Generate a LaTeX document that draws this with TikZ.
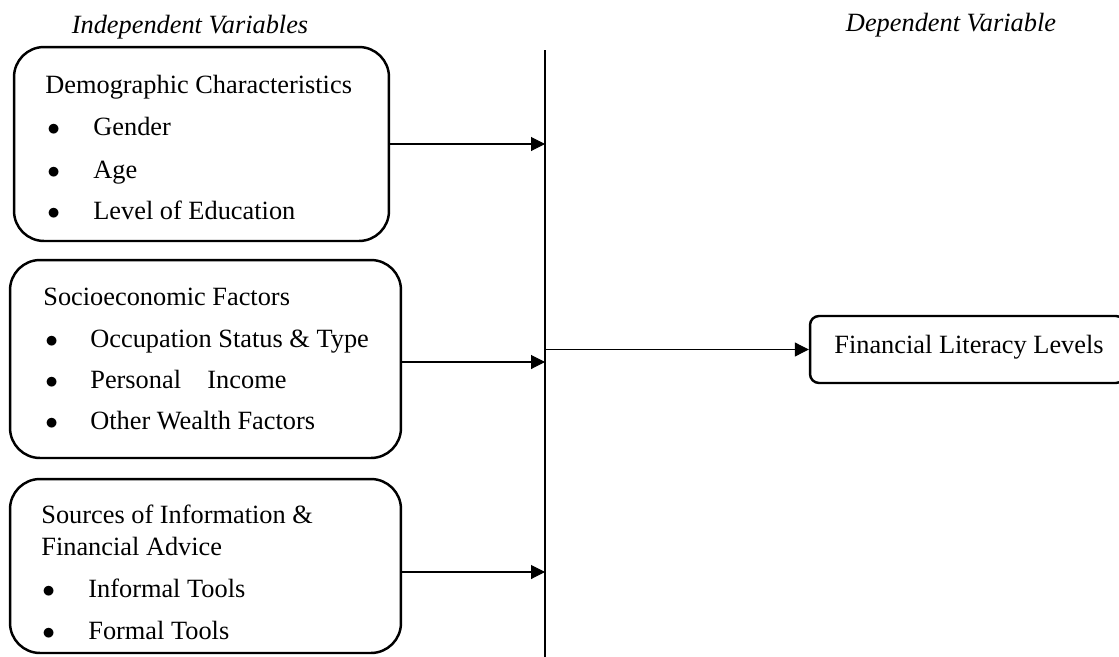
\documentclass[tikz,border=0pt]{standalone}
\usepackage{fontspec}
\setmainfont{Liberation Serif}
\usetikzlibrary{positioning,arrows.meta}
\tikzset{
  varbox/.style={draw, line width=1.4pt, rounded corners=0.6cm, inner sep=0pt},
  txt/.style={anchor=base west, inner sep=0pt, font=\fontsize{15}{17}\selectfont},
  head/.style={inner sep=0pt, font=\fontsize{15}{17}\selectfont\itshape},
  link/.style={-{Triangle[length=0.28cm,width=0.28cm]}, line width=0.6pt},
}
\newcommand{\bul}{$\bullet$}
\begin{document}
\begin{tikzpicture}[x=0.02cm,y=-0.02cm]
\useasboundingbox (0,0) rectangle (1119,656);
\node[head] (indep) at (190,27) {Independent Variables};
\node[head] (dep) at (951,25) {Dependent Variable};
% the three groups of variables
\node[varbox, minimum width=7.5cm, minimum height=3.88cm] (demo) at (201.5,144) {};
\node[varbox, minimum width=7.82cm, minimum height=3.96cm] (socio) at (205.5,359) {};
\node[varbox, minimum width=7.82cm, minimum height=3.48cm] (info) at (205.5,566) {};
\node[varbox, rounded corners=0.18cm, minimum width=6.3cm, minimum height=1.34cm] (fin) at (967.5,349.5) {};
% texts
\node[txt] (demot) at (45,93) {Demographic Characteristics};
\node[txt] (demo1) at (47,135) {\bul};
\node[txt] (demo2) at (47,178) {\bul};
\node[txt] (demo3) at (47,219) {\bul};
\node[txt] at (93,135) {Gender};
\node[txt] at (93,178) {Age};
\node[txt] at (93,219) {Level of Education};
\node[txt] (sociot) at (43,305) {Socioeconomic Factors};
\node[txt] (socio1) at (45,347) {\bul};
\node[txt] (socio2) at (45,388) {\bul};
\node[txt] (socio3) at (45,429) {\bul};
\node[txt] at (90,347) {Occupation Status \& Type};
\node[txt] at (90,388) {Personal\quad Income};
\node[txt] at (90,429) {Other Wealth Factors};
\node[txt] (infot) at (41,523) {Sources of Information \&};
\node[txt] (infot2) at (41,555) {Financial Advice};
\node[txt] (info1) at (42,597) {\bul};
\node[txt] (info2) at (42,639) {\bul};
\node[txt] at (88,597) {Informal Tools};
\node[txt] at (88,639) {Formal Tools};
\node[txt] (fint) at (834,353) {Financial Literacy Levels};
% bar and arrows
\coordinate (bartop) at (545,50);
\coordinate (barbot) at (545,660);
\draw[line width=1.1pt] (bartop) -- (barbot);
\draw[link] (demo.east) -- (demo.east -| bartop);
\draw[link] ([yshift=-0.06cm]socio.east) -- ([yshift=-0.06cm]socio.east -| bartop);
\draw[link] ([yshift=-0.12cm]info.east) -- ([yshift=-0.12cm]info.east -| bartop);
\draw[link] (bartop |- fin.west) -- (fin.west);
\end{tikzpicture}
\end{document}
